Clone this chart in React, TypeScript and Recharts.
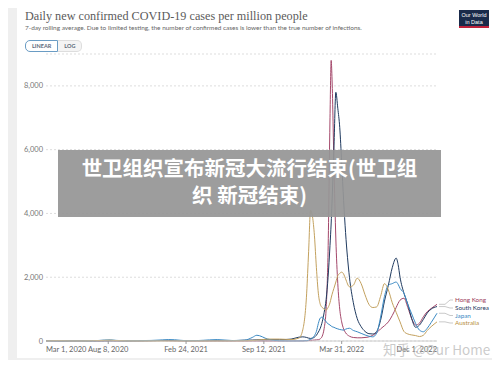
import React from "react";
import { LineChart, Line, XAxis, YAxis, CartesianGrid } from "recharts";

// days since Mar 1, 2020
const days = [
  0, 30, 60, 90, 120, 150, 165, 180, 210, 240, 270, 300, 315, 330, 360, 390, 420, 440, 480, 510,
  530, 542, 570, 600, 630, 650, 660, 670, 675, 680, 685, 690, 695, 700, 705, 710, 715, 720, 725, 730,
  733, 735, 740, 745, 750, 755, 760, 765, 770, 780, 790, 800, 810, 820, 830, 840, 850, 860, 870, 880,
  890, 900, 905, 910, 920, 930, 940, 950, 960, 970, 980, 990, 1005,
];

const hongKong = [
  0, 1, 1, 1, 3, 5, 8, 4, 3, 5, 8, 12, 8, 6, 2, 1, 1, 1, 0, 0,
  0, 0, 0, 0, 1, 2, 3, 8, 12, 18, 25, 30, 35, 40, 70, 150, 400, 1000, 2800, 7000,
  8800, 8300, 5600, 3200, 1800, 1000, 600, 380, 260, 150, 110, 100, 100, 110, 130, 180, 260, 380, 480, 600,
  800, 1050, 1180, 1280, 1340, 1050, 700, 500, 560, 760, 920, 1020, 1150,
];

const southKorea = [
  10, 2, 1, 1, 1, 3, 4, 5, 1, 2, 8, 18, 20, 12, 8, 9, 11, 12, 12, 25,
  30, 35, 40, 40, 60, 120, 130, 110, 90, 80, 90, 120, 180, 280, 400, 600, 900, 1300, 2000, 3000,
  3700, 4300, 6000, 7800, 7300, 6700, 5600, 4400, 3400, 2000, 1200, 700, 450, 300, 230, 220, 300, 650, 1250, 1750,
  2300, 2600, 2400, 2000, 1500, 1150, 700, 430, 500, 680, 880, 1000, 1080,
];

const japan = [
  1, 3, 2, 2, 5, 30, 35, 20, 7, 12, 18, 35, 45, 40, 10, 14, 35, 45, 14, 25,
  110, 180, 60, 5, 1, 2, 3, 10, 25, 50, 90, 170, 300, 550, 720, 750, 680, 600, 540, 500,
  470, 450, 430, 400, 380, 360, 350, 340, 370, 400, 330, 290, 240, 190, 150, 130, 250, 750, 1400, 1750,
  1800, 1850, 1780, 1650, 1500, 1150, 850, 550, 340, 290, 400, 580, 870,
];

const australia = [
  2, 10, 2, 1, 8, 20, 25, 15, 3, 1, 1, 1, 1, 1, 1, 1, 1, 1, 3, 5,
  15, 25, 60, 60, 45, 90, 350, 1500, 2800, 4100, 3900, 3300, 2300, 1500, 1150, 1050, 1000, 970, 1050, 1200,
  1350, 1450, 1650, 1850, 2050, 2120, 2160, 2100, 1950, 1700, 1750, 1970, 1800, 1450, 1150, 1050, 1070, 1400, 1800, 1600,
  1200, 900, 750, 600, 300, 220, 190, 170, 140, 180, 330, 450, 600,
];

const tickDays = [0, 160, 360, 560, 760, 1005];
const tickLabels = ["Mar 1, 2020", "Aug 8, 2020", "Feb 24, 2021", "Sep 12, 2021", "Mar 31, 2022", "Dec 1, 2022"];
const yTicks = [0, 2000, 4000, 6000, 8000];

const series = [
  { key: "hk", name: "Hong Kong", values: hongKong, color: "#a4476a", text: "#9c3b5c", labelY: 300 },
  { key: "sk", name: "South Korea", values: southKorea, color: "#1f3a5f", text: "#1f3a5f", labelY: 308 },
  { key: "jp", name: "Japan", values: japan, color: "#3b8ac4", text: "#3b8ac4", labelY: 315.5 },
  { key: "au", name: "Australia", values: australia, color: "#c3a15e", text: "#b88f3e", labelY: 323 },
];

const data = days.map((d, i) => ({
  day: d,
  hk: hongKong[i],
  sk: southKorea[i],
  jp: japan[i],
  au: australia[i],
}));

const XTick = (props: any) => {
  const { x, y, payload } = props;
  const i = tickDays.indexOf(payload.value);
  const anchor = i === 0 ? "start" : i === tickDays.length - 1 ? "end" : "middle";
  return (
    <g>
      {i > 0 && i < tickDays.length - 1 && <line x1={x} x2={x} y1={y - 8} y2={y - 5} stroke="#999" />}
      <text x={x} y={y + 2.5} textAnchor={anchor} fontSize={7.5} fill="#666" fontFamily="Lato">
        {tickLabels[i]}
      </text>
    </g>
  );
};

const YTick = (props: any) => {
  const { y, payload } = props;
  return (
    <text x={43} y={y + 2.5} textAnchor="end" fontSize={7.5} fill="#777" fontFamily="Lato">
      {payload.value.toLocaleString("en-US")}
    </text>
  );
};

const endLabel = (s: any) => (props: any) => {
  const { x, y, index } = props;
  if (index !== days.length - 1) return null;
  return (
    <g>
      <polyline
        points={`${x + 2},${y} ${x + 8},${y} ${x + 13},${s.labelY} ${x + 16},${s.labelY}`}
        fill="none"
        stroke="#bbb"
        strokeWidth={0.8}
      />
      <text x={x + 18} y={s.labelY + 2.3} fontSize={6.3} fill={s.text} fontFamily="Lato">
        {s.name}
      </text>
    </g>
  );
};

export default function App() {
  return (
    <div style={{ position: "relative", width: 500, height: 368, margin: -8, background: "#efefef", overflow: "hidden", fontFamily: "Lato" }}>
      <div style={{ position: "absolute", left: 17, top: 2, width: 479, height: 356, background: "#fff" }} />
      <div style={{ position: "absolute", left: 25, top: 9, fontFamily: "Liberation Serif", fontSize: 12.2, color: "#5b5b5b", whiteSpace: "nowrap" }}>
        Daily new confirmed COVID-19 cases per million people
      </div>
      <div style={{ position: "absolute", left: 25, top: 24, fontSize: 6.45, color: "#666", whiteSpace: "nowrap" }}>
        7-day rolling average. Due to limited testing, the number of confirmed cases is lower than the true number of infections.
      </div>
      <div style={{ position: "absolute", left: 25, top: 40, display: "flex", fontSize: 5.5, fontWeight: 700, color: "#5b6a7a" }}>
        <div style={{ border: "1px solid #6a9cc4", borderRadius: "5px 0 0 5px", padding: "2px 6px", background: "#fff" }}>LINEAR</div>
        <div style={{ border: "1px solid #ddd", borderLeft: "none", borderRadius: "0 5px 5px 0", padding: "2px 6px", background: "#f4f4f4" }}>LOG</div>
      </div>
      <div style={{ position: "absolute", left: 459, top: 10, width: 30, height: 18, background: "#1a2a4a", borderBottom: "2px solid #c0223b", color: "#fff", fontSize: 5.5, lineHeight: "7px", textAlign: "center", paddingTop: 2, boxSizing: "border-box", fontFamily: "Liberation Sans" }}>
        Our World<br />in Data
      </div>
      <div style={{ position: "absolute", left: 0, top: 0 }}>
        <LineChart width={500} height={368} data={data} margin={{ top: 54, right: 63, bottom: 7, left: 16 }}>
          <CartesianGrid horizontal vertical={false} stroke="#ddd" strokeDasharray="2 2" />
          <XAxis
            dataKey="day"
            type="number"
            domain={[0, 1005]}
            ticks={tickDays}
            tick={<XTick />}
            tickLine={false}
            axisLine={{ stroke: "#ccc" }}
            height={20}
            interval={0}
          />
          <YAxis domain={[0, 9000]} ticks={yTicks} tick={<YTick />} axisLine={false} tickLine={false} width={30} interval={0} />
          {series.map((s) => (
            <Line
              key={s.key}
              dataKey={s.key}
              stroke={s.color}
              strokeWidth={1}
              dot={false}
              type="monotone"
              isAnimationActive={false}
              label={endLabel(s)}
            />
          ))}
        </LineChart>
      </div>
      <div style={{ position: "absolute", left: 58, top: 150, width: 383, height: 67, background: "rgba(150,150,150,0.93)", color: "#fff", fontFamily: "Noto Sans CJK SC", fontWeight: 700, fontSize: 20.5, lineHeight: "27px", textAlign: "center", paddingTop: 4, boxSizing: "border-box" }}>
        世卫组织宣布新冠大流行结束(世卫组<br />织 新冠结束)
      </div>
      <div style={{ position: "absolute", left: 383, top: 339, fontFamily: "Noto Sans CJK SC", fontSize: 13.5, color: "rgba(185,185,185,0.75)", whiteSpace: "nowrap" }}>
        知乎 @Our Home
      </div>
    </div>
  );
}
